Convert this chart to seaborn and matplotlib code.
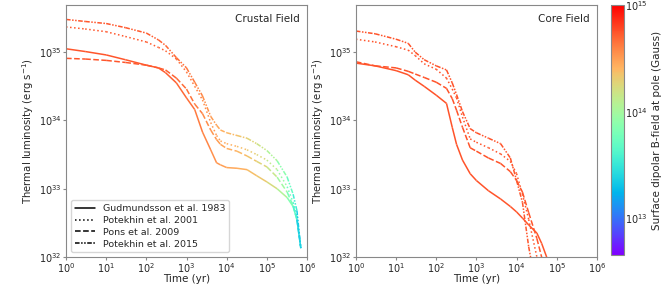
import matplotlib
matplotlib.use("Agg")
import matplotlib.pyplot as plt
import numpy as np
import seaborn as sns
from matplotlib.collections import LineCollection
from matplotlib.colors import LogNorm
from matplotlib.lines import Line2D

# --- crustal field panel: time grid (yr), log10 luminosity and B-field (G) ---
T_CRUST = [1, 3, 10, 30, 100, 200, 300, 560, 1e3, 1.6e3, 2.5e3, 4e3, 5.6e3,
           7e3, 1e4, 1.8e4, 3.2e4, 5.6e4, 1e5, 1.8e5, 3.2e5, 4.5e5, 5.6e5, 7e5]

LOGL_CRUST_GUD = [35.05, 35.01, 34.96, 34.89, 34.81, 34.77, 34.70, 34.55, 34.33, 34.16,
                  33.83, 33.57, 33.38, 33.35, 33.31, 33.30, 33.28, 33.19, 33.10, 33.00,
                  32.87, 32.74, 32.55, 32.13]
LOGL_CRUST_POT01 = [35.37, 35.34, 35.30, 35.23, 35.15, 35.07, 35.02, 34.90, 34.71, 34.50,
                    34.30, 33.97, 33.78, 33.70, 33.66, 33.62, 33.57, 33.50, 33.42, 33.28,
                    33.03, 32.80, 32.60, 32.13]
LOGL_CRUST_PONS = [34.91, 34.90, 34.88, 34.85, 34.81, 34.77, 34.74, 34.62, 34.46, 34.24,
                   34.10, 33.86, 33.72, 33.65, 33.59, 33.55, 33.48, 33.40, 33.32, 33.17,
                   32.95, 32.75, 32.55, 32.13]
LOGL_CRUST_POT15 = [35.48, 35.45, 35.42, 35.36, 35.28, 35.18, 35.10, 34.92, 34.77, 34.56,
                    34.36, 34.06, 33.93, 33.86, 33.82, 33.78, 33.74, 33.66, 33.56, 33.41,
                    33.17, 32.92, 32.68, 32.13]

B_CRUST_GUD = [5.5e14, 5.5e14, 5.5e14, 5.4e14, 5.4e14, 5.3e14, 5.2e14, 5.0e14, 4.7e14, 4.4e14,
               4.0e14, 3.6e14, 3.4e14, 3.2e14, 3.0e14, 2.8e14, 2.5e14, 2.2e14, 2.0e14, 1.4e14,
               9.0e13, 5.6e13, 4.0e13, 1.8e13]
B_CRUST_POT01 = [5.5e14, 5.5e14, 5.5e14, 5.4e14, 5.3e14, 5.2e14, 5.1e14, 4.8e14, 4.5e14, 4.2e14,
                 3.8e14, 3.4e14, 3.2e14, 3.0e14, 2.8e14, 2.5e14, 2.2e14, 1.9e14, 1.6e14, 1.1e14,
                 7.0e13, 4.5e13, 3.2e13, 1.7e13]
B_CRUST_PONS = [5.5e14, 5.5e14, 5.5e14, 5.4e14, 5.4e14, 5.3e14, 5.2e14, 4.9e14, 4.6e14, 4.3e14,
                3.9e14, 3.5e14, 3.3e14, 3.1e14, 2.9e14, 2.6e14, 2.3e14, 2.0e14, 1.7e14, 1.2e14,
                7.5e13, 5.0e13, 3.5e13, 1.7e13]
B_CRUST_POT15 = [5.5e14, 5.5e14, 5.5e14, 5.4e14, 5.3e14, 5.1e14, 5.0e14, 4.7e14, 4.4e14, 4.1e14,
                 3.7e14, 3.3e14, 3.0e14, 2.8e14, 2.6e14, 2.3e14, 2.0e14, 1.7e14, 1.3e14, 9.5e13,
                 6.3e13, 4.2e13, 3.0e13, 1.7e13]

# --- core field panel ---
T_CORE = [1, 3, 10, 20, 30, 50, 100, 180, 250, 320, 450, 700, 1e3, 2e3, 4e3,
          7e3, 1e4, 1.4e4, 2e4, 3.2e4, 4.2e4, 5.6e4, 7e4]

LOGL_CORE_GUD = [34.84, 34.80, 34.73, 34.67, 34.59, 34.50, 34.37, 34.25, 33.90, 33.65,
                 33.42, 33.22, 33.12, 32.97, 32.85, 32.74, 32.66, 32.57, 32.47, 32.35,
                 32.20, 32.00, 31.80]
LOGL_CORE_POT01 = [35.19, 35.15, 35.08, 35.03, 34.95, 34.83, 34.75, 34.62, 34.46, 34.33,
                   34.05, 33.73, 33.68, 33.60, 33.51, 33.40, 33.22, 32.92, 32.55, 32.00,
                   31.60, 31.20, 30.80]
LOGL_CORE_PONS = [34.86, 34.80, 34.77, 34.72, 34.68, 34.63, 34.56, 34.47, 34.32, 34.15,
                  33.90, 33.60, 33.55, 33.45, 33.37, 33.25, 33.12, 32.95, 32.65, 32.27,
                  32.00, 31.60, 31.30]
LOGL_CORE_POT15 = [35.31, 35.27, 35.19, 35.13, 35.00, 34.89, 34.80, 34.74, 34.55, 34.38,
                   34.13, 33.88, 33.82, 33.74, 33.66, 33.45, 33.12, 32.80, 32.15, 31.50,
                   31.00, 30.50, 30.00]

B_CORE = [5.6e14, 5.6e14, 5.6e14, 5.6e14, 5.6e14, 5.6e14, 5.6e14, 5.6e14, 5.6e14, 5.6e14,
          5.6e14, 5.6e14, 5.6e14, 5.6e14, 5.5e14, 5.5e14, 5.5e14, 5.5e14, 5.5e14, 5.5e14,
          5.5e14, 5.5e14, 5.5e14]

MODELS = ["Gudmundsson et al. 1983", "Potekhin et al. 2001",
          "Pons et al. 2009", "Potekhin et al. 2015"]
STYLES = ["-", ":", "--", (0, (3, 1, 1, 1, 1, 1))]

B_MIN, B_MAX = 4.5e12, 1e15

sns.set_style("white")
plt.rcParams["font.family"] = ["DejaVu Sans"]
plt.rcParams["mathtext.default"] = "regular"

cmap = sns.color_palette("rainbow", as_cmap=True)
norm = LogNorm(vmin=B_MIN, vmax=B_MAX)


def add_colored_line(ax, t, logl, bfield, style):
    """Draws a curve as segments coloured by the B-field."""
    t = np.asarray(t, dtype=float)
    lum = 10.0 ** np.asarray(logl)
    b = np.asarray(bfield, dtype=float)
    pts = np.column_stack([t, lum]).reshape(-1, 1, 2)
    segs = np.concatenate([pts[:-1], pts[1:]], axis=1)
    lc = LineCollection(segs, cmap=cmap, norm=norm, linestyles=style, linewidths=1.1)
    lc.set_array(np.sqrt(b[:-1] * b[1:]))
    ax.add_collection(lc)


fig = plt.figure(figsize=(6.64, 2.85), dpi=100)
ax_crust = fig.add_axes([0.0994, 0.0982, 0.363, 0.884])
ax_core = fig.add_axes([0.536, 0.0982, 0.363, 0.884])
cax = fig.add_axes([0.920, 0.105, 0.0196, 0.877])

crust = [(LOGL_CRUST_GUD, B_CRUST_GUD), (LOGL_CRUST_POT01, B_CRUST_POT01),
         (LOGL_CRUST_PONS, B_CRUST_PONS), (LOGL_CRUST_POT15, B_CRUST_POT15)]
core = [LOGL_CORE_GUD, LOGL_CORE_POT01, LOGL_CORE_PONS, LOGL_CORE_POT15]

for (logl, b), st in zip(crust, STYLES):
    add_colored_line(ax_crust, T_CRUST, logl, b, st)
for logl, st in zip(core, STYLES):
    add_colored_line(ax_core, T_CORE, logl, B_CORE, st)

for ax, title in [(ax_crust, "Crustal Field"), (ax_core, "Core Field")]:
    ax.set_xscale("log")
    ax.set_yscale("log")
    ax.set_xlim(1, 1e6)
    ax.set_ylim(1e32, 4.9e35)
    ax.set_xticks([1, 1e1, 1e2, 1e3, 1e4, 1e5, 1e6])
    ax.set_yticks([1e32, 1e33, 1e34, 1e35])
    ax.minorticks_off()
    ax.tick_params(labelsize=7, length=2, color="#888888", left=True, bottom=True, pad=1)
    for sp in ax.spines.values():
        sp.set_color("#888888")
        sp.set_linewidth(0.8)
    ax.set_xlabel("Time (yr)", fontsize=7.5, labelpad=-1)
    ax.set_ylabel(r"Thermal luminosity (erg s$^{-1}$)", fontsize=7.3, labelpad=2)
    ax.text(0.97, 0.965, title, transform=ax.transAxes, ha="right", va="top", fontsize=7.5)

handles = [Line2D([], [], color="black", linestyle=st, linewidth=1.1) for st in STYLES]
ax_crust.legend(handles, MODELS, loc="lower left", fontsize=6.8, handlelength=2.2,
                borderpad=0.4, labelspacing=0.3, frameon=True, fancybox=True,
                bbox_to_anchor=(0.0, 0.0))

sm = plt.cm.ScalarMappable(cmap=cmap, norm=norm)
cb = fig.colorbar(sm, cax=cax)
cb.set_ticks([1e13, 1e14, 1e15])
cb.ax.minorticks_off()
cb.ax.tick_params(labelsize=7, length=0, pad=1)
cb.outline.set_edgecolor("#888888")
cb.set_label("Surface dipolar B-field at pole (Gauss)", fontsize=7.5, labelpad=3)

fig.savefig("out.png", dpi=100)
